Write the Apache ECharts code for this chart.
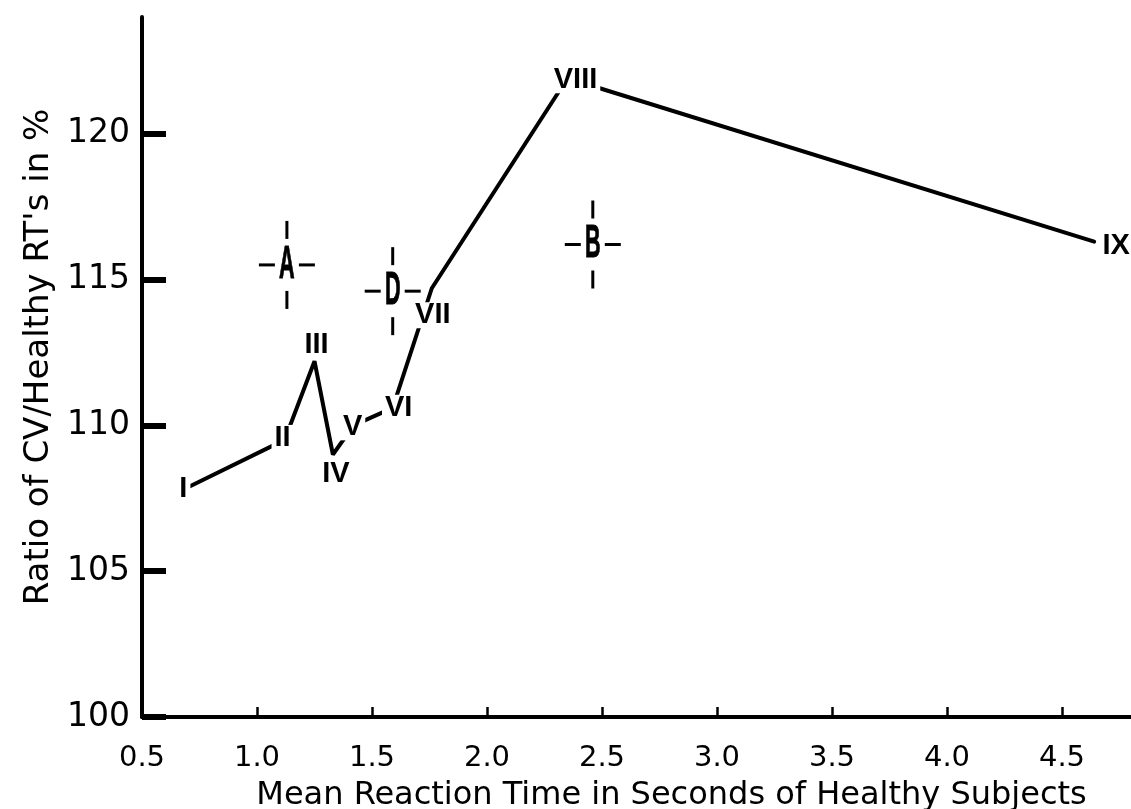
<!DOCTYPE html>
<html>
<head>
<meta charset="utf-8">
<script src="https://cdn.jsdelivr.net/npm/echarts@6/dist/echarts.min.js"></script>
<style>
  html, body { margin: 0; padding: 0; background: #fff; }
  #chart { width: 1131px; height: 809px; }
</style>
</head>
<body>
<div id="chart"></div>
<script>
// stages I..IX, joined by the line
const stages = ['I', 'II', 'III', 'IV', 'V', 'VI', 'VII', 'VIII', 'IX'];
const stageRT = [0.68, 1.12, 1.25, 1.33, 1.42, 1.59, 1.76, 2.35, 4.64];
const stageRatio = [107.8, 109.5, 112.2, 109.0, 110.0, 110.6, 114.7, 121.9, 116.3];

// groups drawn as crosses
const groups = ['A', 'D', 'B'];
const groupRT = [1.13, 1.59, 2.46];
const groupRatio = [115.5, 114.6, 116.2];

const xTicks = [0.5, 1.0, 1.5, 2.0, 2.5, 3.0, 3.5, 4.0, 4.5];
const yTicks = [100, 105, 110, 115, 120];

// where each numeral sits relative to its point (px)
const labelOffset = {
  I: [0, -1], II: [-2, -2], III: [2, -16], IV: [3, 19], V: [-1, 2],
  VI: [6, 0], VII: [1, 27], VIII: [8, 2], IX: [22, 4]
};

const axisFont = 'DejaVu Sans';

const chart = echarts.init(document.getElementById('chart'));

const option = {
  animation: false,
  backgroundColor: '#fff',
  grid: { left: 142, right: 0, top: 17, bottom: 92, containLabel: false, outerBoundsMode: 'none' },
  xAxis: {
    type: 'value',
    min: 0.5,
    max: 4.8,
    interval: 0.5,
    name: 'Mean Reaction Time in Seconds of Healthy Subjects',
    nameLocation: 'middle',
    nameGap: 63,
    nameTextStyle: { color: '#000', fontSize: 32, fontFamily: axisFont, padding: [0, 0, 0, 70] },
    axisLine: { show: true, lineStyle: { color: '#000', width: 4 } },
    axisTick: { show: true, inside: true, length: 10, customValues: xTicks, lineStyle: { color: '#000', width: 2.5 } },
    axisLabel: {
      customValues: xTicks,
      margin: 27,
      color: '#000',
      fontSize: 29,
      fontFamily: axisFont,
      formatter: v => v.toFixed(1)
    },
    splitLine: { show: false }
  },
  yAxis: {
    type: 'value',
    min: 100,
    max: 124,
    interval: 5,
    name: "Ratio of CV/Healthy RT's in %",
    nameLocation: 'middle',
    nameGap: 86,
    nameTextStyle: { color: '#000', fontSize: 34, fontFamily: axisFont, padding: [0, 0, 0, 20] },
    axisLine: { show: true, lineStyle: { color: '#000', width: 4 } },
    axisTick: { show: true, inside: true, length: 24, customValues: yTicks, lineStyle: { color: '#000', width: 6 } },
    axisLabel: {
      customValues: yTicks,
      margin: 12,
      color: '#000',
      fontSize: 33,
      fontFamily: axisFont
    },
    splitLine: { show: false }
  },
  series: [
    {
      type: 'line',
      data: stageRT.map((x, i) => [x, stageRatio[i]]),
      symbol: 'none',
      z: 2,
      lineStyle: { color: '#000', width: 4, cap: 'round' }
    },
    {
      type: 'scatter',
      data: stageRT.map((x, i) => ({
        value: [x, stageRatio[i]],
        name: stages[i],
        label: { offset: labelOffset[stages[i]] }
      })),
      symbolSize: 1,
      itemStyle: { color: 'rgba(0,0,0,0)', opacity: 1 },
      z: 5,
      label: {
        show: true,
        position: 'inside',
        formatter: p => p.name,
        color: '#000',
        fontSize: 29,
        fontWeight: 'bold',
        fontFamily: 'Liberation Sans',
        backgroundColor: '#fff',
        padding: [1, 3],
        lineHeight: 24
      }
    },
    {
      type: 'custom',
      data: groupRT.map((x, i) => [x, groupRatio[i]]),
      clip: false,
      z: 4,
      renderItem: function (params, api) {
        const p = api.coord([api.value(0), api.value(1)]);
        const st = { stroke: '#000', lineWidth: 3 };
        const seg = (x1, y1, x2, y2) => ({ type: 'line', shape: { x1, y1, x2, y2 }, style: st });
        return {
          type: 'group',
          children: [
            seg(p[0], p[1] - 44, p[0], p[1] - 26),
            seg(p[0], p[1] + 26, p[0], p[1] + 44),
            seg(p[0] - 28, p[1], p[0] - 12, p[1]),
            seg(p[0] + 12, p[1], p[0] + 28, p[1]),
            {
              type: 'text',
              x: p[0],
              y: p[1],
              scaleX: 0.47,
              style: {
                text: groups[params.dataIndex],
                fill: '#000',
                stroke: '#000',
                lineWidth: 1,
                fontSize: 46,
                fontWeight: 'bold',
                fontFamily: 'Liberation Sans',
                align: 'center',
                verticalAlign: 'middle'
              }
            }
          ]
        };
      }
    }
  ]
};

chart.setOption(option);

window.addEventListener('resize', function () {
  chart.resize();
});
</script>
</body>
</html>
